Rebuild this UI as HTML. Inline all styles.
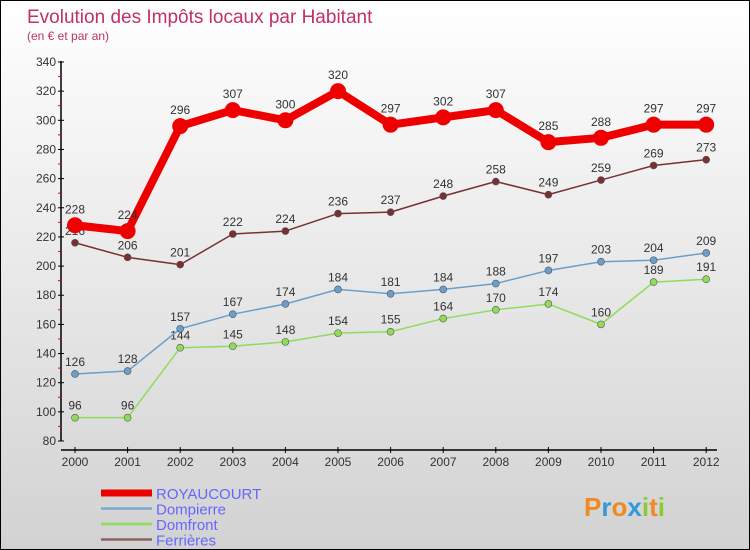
<!DOCTYPE html>
<html><head><meta charset="utf-8"><style>
body{margin:0}
#c{width:748px;height:548px;border:1px solid #000;background:linear-gradient(#fff,#d2d2d2);position:relative;font-family:"Liberation Sans",sans-serif;overflow:hidden}
</style></head><body>
<div id="c">
<svg width="748" height="548" id="s"></svg>
</div>
<script>
const years=[2000,2001,2002,2003,2004,2005,2006,2007,2008,2009,2010,2011,2012];
const royaucourt=[228,224,296,307,300,320,297,302,307,285,288,297,297];
const dompierre=[126,128,157,167,174,184,181,184,188,197,203,204,209];
const domfront=[96,96,144,145,148,154,155,164,170,174,160,189,191];
const ferrieres=[216,206,201,222,224,236,237,248,258,249,259,269,273];
const yTicks=[80,100,120,140,160,180,200,220,240,260,280,300,320,340];
const NS="http://www.w3.org/2000/svg";
const s=document.getElementById('s');
function xs(i){return 74+i*52.6;}
function ys(v){return 440-(v-80)*379/260;}
function el(t,a,p){const e=document.createElementNS(NS,t);for(const k in a)e.setAttribute(k,a[k]);(p||s).appendChild(e);return e;}
let t=el('text',{x:26,y:22,'font-size':19,fill:'#c0306a'});t.textContent='Evolution des Impôts locaux par Habitant';

t=el('text',{x:26,y:39,'font-size':12,fill:'#c0306a'});t.textContent='(en € et par an)';

el('line',{x1:60,y1:60,x2:60,y2:440,stroke:'#000','stroke-width':1.5});
el('line',{x1:60,y1:449,x2:716,y2:449,stroke:'#000','stroke-width':1.5});
yTicks.forEach((v,i)=>{const y=ys(v);el('line',{x1:57,y1:y,x2:63,y2:y,stroke:'#000'});
 if(i<yTicks.length-1)el('line',{x1:57,y1:y-14.6,x2:60,y2:y-14.6,stroke:'#e00'});
 const l=el('text',{x:55,y:y+4,'font-size':12,'text-anchor':'end',fill:'#333'});l.textContent=v;
 });
years.forEach((yr,i)=>{const x=xs(i);el('line',{x1:x,y1:446,x2:x,y2:452,stroke:'#000'});
 const l=el('text',{x:x,y:465,'font-size':12,'text-anchor':'middle',fill:'#333'});l.textContent=yr;
 });
function series(d,col,w,r,name,labels){
 const g=el('g',{});
 el('polyline',{points:d.map((v,i)=>xs(i)+','+ys(v)).join(' '),fill:'none',stroke:col,'stroke-width':w,'stroke-linejoin':'round'},g);
 d.forEach((v,i)=>{const c=el('circle',{cx:xs(i),cy:ys(v),r:r,fill:col,stroke:w>3?col:'#555','stroke-width':w>3?0:0.6},g);
  
  if(labels){const l=el('text',{x:xs(i),y:ys(v)-(w>3?12:8),'font-size':12,'text-anchor':'middle',fill:'#333'},g);l.textContent=v;}});
}
series(domfront,'#8edc5a',1.5,3.5,'domfront',true);
series(dompierre,'#6a9fcc',1.5,3.5,'dompierre',true);
series(ferrieres,'#7a3030',1.5,3.5,'ferrieres',true);
series(royaucourt,'#ee0000',8,8,'royaucourt',true);
const leg=[['ROYAUCOURT','#ee0000',7],['Dompierre','#7aaacc',2.5],['Domfront','#8edc5a',2.5],['Ferrières','#8a6060',2.5]];
leg.forEach((L,i)=>{const y=492+i*15.5;const g=el('g',{});
 el('line',{x1:100,y1:y,x2:151,y2:y,stroke:L[1],'stroke-width':L[2]},g);
 const tt=el('text',{x:155,y:y+6,'font-size':15,fill:'#6666ff'},g);tt.textContent=L[0];});
const logo=el('text',{x:583,y:515,'font-size':26,'font-weight':'bold'});
[['P','#f08a20'],['r','#3399dd'],['o','#f08a20'],['x','#3399dd'],['i','#88cc33'],['t','#f08a20'],['i','#88cc33']].forEach(p=>{const ts=el('tspan',{fill:p[1]},logo);ts.textContent=p[0];});
</script>
</body></html>
